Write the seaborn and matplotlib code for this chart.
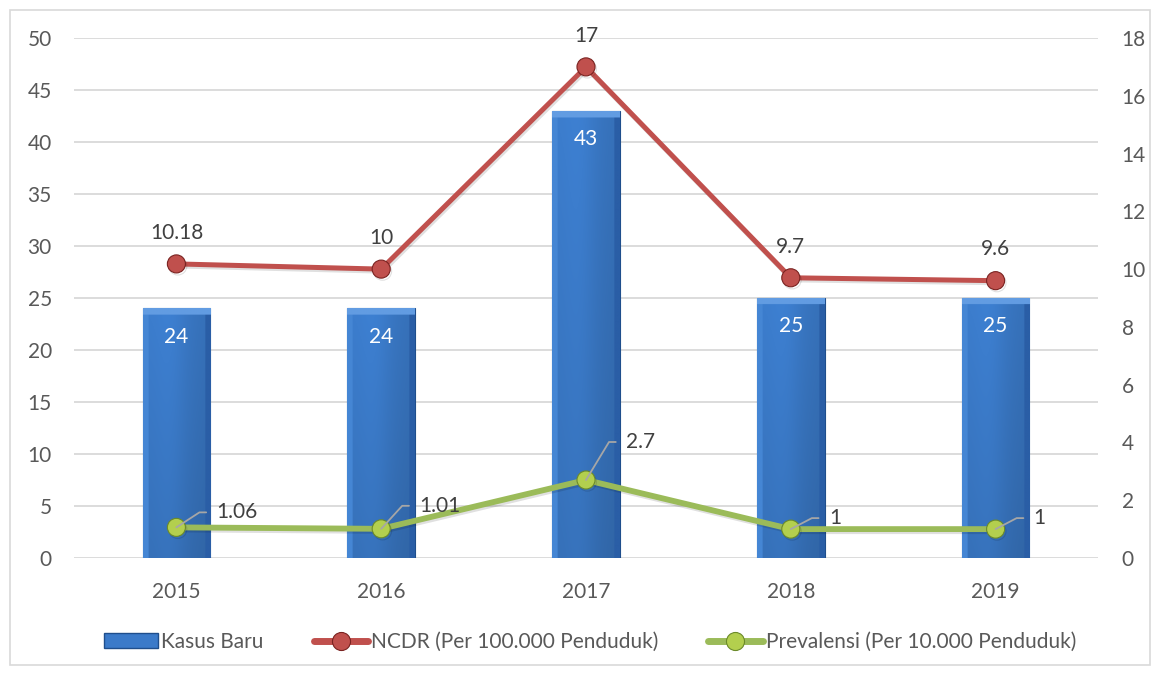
import numpy as np
import pandas as pd
import matplotlib
matplotlib.use('Agg')
import matplotlib.pyplot as plt
import matplotlib.patheffects as pe
from matplotlib.patches import Patch, Rectangle
from matplotlib.lines import Line2D
import seaborn as sns

years = ['2015', '2016', '2017', '2018', '2019']
kasus_baru = [24, 24, 43, 25, 25]
ncdr = [10.18, 10, 17, 9.7, 9.6]
prevalensi = [1.06, 1.01, 2.7, 1, 1]
ncdr_labels = ['10.18', '10', '17', '9.7', '9.6']
prev_labels = ['1.06', '1.01', '2.7', '1', '1']
legend_labels = ['Kasus Baru', 'NCDR (Per 100.000 Penduduk)', 'Prevalensi (Per 10.000 Penduduk)']

df = pd.DataFrame({'Tahun': years, 'Kasus': kasus_baru, 'NCDR': ncdr, 'Prev': prevalensi})

sns.set_style('white')
plt.rcParams['font.family'] = ['Lato', 'DejaVu Sans']

BLUE = '#3B7AC9'
RED = '#C0504D'
GREEN = '#9BBB59'
TXT = '#595959'
FS = 15

fig = plt.figure(figsize=(11.6, 6.74), dpi=100)
ax = fig.add_axes([74/1160, 1-558/674, (1098-74)/1160, 520/674])

sns.barplot(data=df, x='Tahun', y='Kasus', ax=ax, color=BLUE, width=0.33,
            edgecolor='#1F4E8C', linewidth=0.8, saturation=1, zorder=2)

# bevel-ish gradient on the bars
center = np.array([0x3C, 0x7D, 0xCD]) / 255
for p in list(ax.patches):
    x0, y0, w, h = p.get_x(), p.get_y(), p.get_width(), p.get_height()
    N, M = 300, 60
    ys = np.linspace(0, 1, N)[:, None]
    xs = np.linspace(0, 1, M)[None, :]
    prof = 1.0 + 0.06 * np.exp(-((xs - 0.4) / 0.25) ** 2) - 0.10 * xs
    arr = np.ones((N, M, 3)) * center
    arr = arr * (prof * (1.0 - 0.10 * ys))[..., None]
    bev_y = 6 / (h * 520 / 50)
    arr[(xs < 0.08).repeat(N, 0)] = np.array([0x45, 0x86, 0xD4]) / 255
    arr[(xs > 0.92).repeat(N, 0)] = np.array([0x2A, 0x5E, 0xA6]) / 255
    arr[(ys < bev_y).repeat(M, 1)] = np.array([0x62, 0x9C, 0xE2]) / 255
    arr = np.clip(arr, 0, 1)
    im = ax.imshow(arr, extent=[x0, x0 + w, y0, y0 + h], aspect='auto',
                   zorder=2.5, interpolation='bilinear')
    im.set_clip_path(p)

ax.set_xlim(-0.5, 4.5)
ax.set_ylim(0, 50)
ax.set_yticks(range(0, 51, 5))
ax.yaxis.grid(True, color='#D9D9D9', lw=1.3)
ax.set_axisbelow(True)
ax.set_xlabel('')
ax.set_ylabel('')
for s in ax.spines.values():
    s.set_visible(False)
ax.tick_params(axis='y', length=0, labelsize=FS, labelcolor=TXT, pad=16)
ax.tick_params(axis='x', length=0, labelsize=FS, labelcolor=TXT, pad=17)

for i, k in enumerate(kasus_baru):
    ax.annotate(str(k), (i, k), xytext=(0, -20.5), textcoords='offset points',
                ha='center', va='center', color='white', fontsize=FS, zorder=4)

ax2 = ax.twinx()
sns.pointplot(data=df, x='Tahun', y='NCDR', ax=ax2, color=RED, markers='o',
              markersize=13, linewidth=3.6, errorbar=None,
              markeredgecolor='#7A2321', markeredgewidth=0.8)
sns.pointplot(data=df, x='Tahun', y='Prev', ax=ax2, color=GREEN, markers='o',
              markersize=13, linewidth=4.2, errorbar=None,
              markerfacecolor='#B3CF4E', markeredgecolor='#6B8A2A', markeredgewidth=0.8)
for ln in ax2.lines:
    ln.set_path_effects([pe.SimpleLineShadow(offset=(1, -1.5), alpha=0.12), pe.Normal()])

ax2.set_xlim(-0.5, 4.5)
ax2.set_ylim(0, 18)
ax2.set_yticks(range(0, 19, 2))
ax2.set_xlabel('')
ax2.set_ylabel('')
for s in ax2.spines.values():
    s.set_visible(False)
ax2.grid(False)
ax2.tick_params(axis='y', length=0, labelsize=FS, labelcolor=TXT, pad=17)
ax2.tick_params(axis='x', length=0, labelbottom=False)

for i, (v, lab) in enumerate(zip(ncdr, ncdr_labels)):
    ax2.annotate(lab, (i, v), xytext=(0, 22.5), textcoords='offset points',
                 ha='center', va='center', color='#404040', fontsize=FS)

offs = [(40, 15), (38, 23), (40, 38), (38, 11), (38, 11)]
for i, (v, lab) in enumerate(zip(prevalensi, prev_labels)):
    dx, dy = offs[i]
    ang = np.degrees(np.arctan2(dy, dx - 17))
    ax2.annotate(lab, (i, v), xytext=(dx / 1.389, dy / 1.389), textcoords='offset points',
                 ha='left', va='center', color='#404040', fontsize=FS, zorder=5,
                 arrowprops=dict(arrowstyle='-', color='#A6A6A6', lw=1.3, relpos=(0, 0.5),
                                 shrinkA=5, shrinkB=0,
                                 connectionstyle=f'angle,angleA=0,angleB={ang:.1f},rad=0'))

handles = [
    Patch(facecolor=BLUE, edgecolor='#1F4E8C'),
    Line2D([], [], color=RED, lw=5, marker='o', markersize=13,
           markeredgecolor='#7A2321', markeredgewidth=0.8),
    Line2D([], [], color=GREEN, lw=5, marker='o', markersize=13, markerfacecolor='#B3CF4E',
           markeredgecolor='#6B8A2A', markeredgewidth=0.8),
]
fig.legend(handles, legend_labels, loc='center', bbox_to_anchor=(590/1160, 1-642/674), ncol=3,
           frameon=False, fontsize=FS, handlelength=2.6, handletextpad=0.15,
           columnspacing=2.4, labelcolor=TXT)

fig.add_artist(Rectangle((10/1160, 9/674), 1140/1160, 655/674, transform=fig.transFigure,
                         fill=False, edgecolor='#D9D9D9', lw=1.2))

fig.savefig('out.png', dpi=100)
